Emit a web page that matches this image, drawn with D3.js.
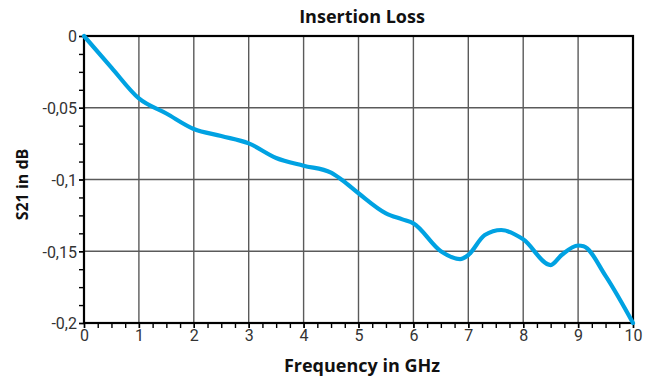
<!DOCTYPE html>
<html>
<head>
<meta charset="utf-8">
<script src="https://cdn.jsdelivr.net/npm/d3@7/dist/d3.min.js"></script>
<style>
  html, body { margin: 0; padding: 0; background: #fff; }
  svg { display: block; }
</style>
</head>
<body>
<svg id="chart" width="653" height="380"></svg>
<script>
// Insertion loss (S21) measured over frequency
const freqGHz = [0, 0.5, 1, 1.5, 2, 2.5, 3, 3.5, 4, 4.5, 4.7, 5, 5.5, 5.8, 6, 6.5, 6.85, 7, 7.3, 7.6, 8, 8.5, 8.7, 9, 9.1, 9.5, 10];
const s21dB   = [0, -0.022, -0.0435, -0.054, -0.0648, -0.0697, -0.0748, -0.085, -0.0904, -0.0952, -0.1003, -0.1096, -0.1236, -0.1278, -0.1306, -0.150, -0.1555, -0.1526, -0.1387, -0.1352, -0.1417, -0.1596, -0.1526, -0.146, -0.1465, -0.1672, -0.2];

const xTicks = [0, 1, 2, 3, 4, 5, 6, 7, 8, 9, 10];
const yTicks = [0, -0.05, -0.1, -0.15, -0.2];
const yTickLabels = ["0", "-0,05", "-0,1", "-0,15", "-0,2"];

const titleText = "Insertion Loss";
const xTitle = "Frequency in GHz";
const yTitle = "S21 in dB";

const svg = d3.select("#chart");
const m = { left: 84, top: 36, right: 20, bottom: 57 };
const W = 653, H = 380;
const x = d3.scaleLinear().domain([0, 10]).range([m.left, W - m.right]);
const y = d3.scaleLinear().domain([0, -0.2]).range([m.top, H - m.bottom]);

const grid = svg.append("g").attr("stroke", "#5a5a5a").attr("stroke-width", 1.4);
grid.selectAll("line.v").data(xTicks.slice(1, -1)).join("line")
  .attr("x1", d => x(d)).attr("x2", d => x(d))
  .attr("y1", y(0)).attr("y2", y(-0.2));
grid.selectAll("line.h").data(yTicks.slice(1, -1)).join("line")
  .attr("x1", x(0)).attr("x2", x(10))
  .attr("y1", d => y(d)).attr("y2", d => y(d));

// axes with major and minor ticks
const font = "Roboto, 'Open Sans', sans-serif";
const xAxis = d3.axisBottom(x).tickValues(xTicks).tickSize(5).tickPadding(2).tickFormat(d3.format("d"));
const xMinor = d3.axisBottom(x).tickValues(d3.range(0, 10.01, 0.25)).tickSize(5).tickFormat("");
const yAxis = d3.axisLeft(y).tickValues(yTicks).tickSize(5).tickPadding(2).tickFormat((d, i) => yTickLabels[i]);
const yMinor = d3.axisLeft(y).tickValues(d3.range(0, -0.2001, -0.0125)).tickSize(5).tickFormat("");

function styleAxis(g) {
  g.select(".domain").remove();
  g.selectAll(".tick line").attr("stroke", "#000").attr("stroke-width", 1.4);
  g.selectAll("text").attr("fill", "#333").style("font-family", font).style("font-size", "16px");
}
svg.append("g").attr("transform", `translate(0,${y(-0.2)})`).call(xMinor).call(styleAxis);
svg.append("g").attr("transform", `translate(0,${y(-0.2)})`).call(xAxis).call(styleAxis);
svg.append("g").attr("transform", `translate(${x(0)},0)`).call(yMinor).call(styleAxis);
svg.append("g").attr("transform", `translate(${x(0)},0)`).call(yAxis).call(styleAxis)
  .selectAll("text").attr("dy", "0.36em");

// plot frame
svg.append("rect")
  .attr("x", x(0)).attr("y", y(0))
  .attr("width", x(10) - x(0)).attr("height", y(-0.2) - y(0))
  .attr("fill", "none").attr("stroke", "#000").attr("stroke-width", 2.2);

// data line
const pts = freqGHz.map((f, i) => [f, s21dB[i]]);
svg.append("path")
  .datum(pts)
  .attr("fill", "none")
  .attr("stroke", "#00a2e2")
  .attr("stroke-width", 4.2)
  .attr("stroke-linejoin", "round")
  .attr("stroke-linecap", "round")
  .attr("d", d3.line().x(d => x(d[0])).y(d => y(d[1])).curve(d3.curveMonotoneX));

// titles
const boldFont = "'Open Sans', sans-serif";
svg.append("text").text(titleText)
  .attr("x", 362).attr("y", 23)
  .attr("text-anchor", "middle")
  .style("font-family", boldFont).style("font-weight", "bold").style("font-size", "18px").attr("fill", "#111");
svg.append("text").text(xTitle)
  .attr("x", 362).attr("y", 372)
  .attr("text-anchor", "middle")
  .style("font-family", boldFont).style("font-weight", "bold").style("font-size", "18px").attr("fill", "#111");
svg.append("text").text(yTitle)
  .attr("transform", `translate(28,${(y(0) + y(-0.2)) / 2 + 5}) rotate(-90)`)
  .attr("text-anchor", "middle")
  .style("font-family", boldFont).style("font-weight", "bold").style("font-size", "16px").attr("fill", "#111");
</script>
</body>
</html>
